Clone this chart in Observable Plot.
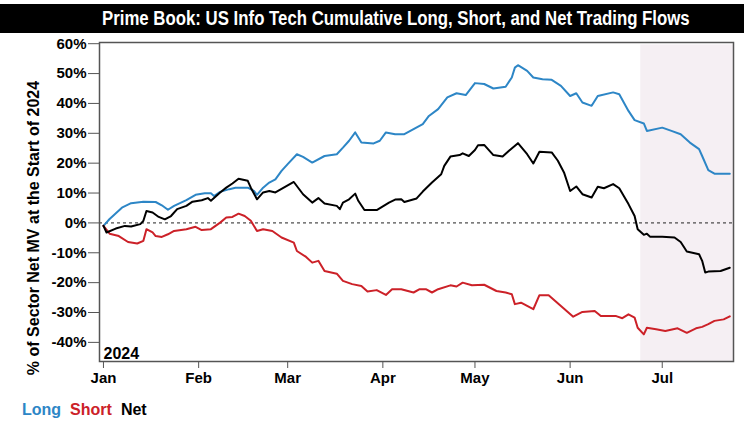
<!DOCTYPE html>
<html>
<head>
<meta charset="utf-8">
<script src="https://cdn.jsdelivr.net/npm/d3@7"></script>
<script src="https://cdn.jsdelivr.net/npm/@observablehq/plot@0.6"></script>
<style>
  html, body { margin: 0; padding: 0; background: #fff; }
  #wrap { width: 744px; height: 427px; position: relative; overflow: hidden; }
  #title { margin-top: 4px; height: 29px; line-height: 29px; background: #000; color: #fff;
           font-family: "Liberation Sans", Arial, sans-serif; font-weight: bold;
           font-size: 20px; text-align: center; padding-left: 46px; box-sizing: border-box; white-space: nowrap; }
  #title span { display: inline-block; transform: scaleX(0.84); transform-origin: center; }
  #chart svg text { font-weight: bold; }
  #legend { position: absolute; left: 22px; top: 401px; font-family: "Liberation Sans", Arial, sans-serif;
            font-weight: bold; font-size: 16px; }
  #legend span { margin-right: 9px; }
</style>
</head>
<body>
<div id="wrap">
  <div id="title"><span>Prime Book: US Info Tech Cumulative Long, Short, and Net Trading Flows</span></div>
  <div id="chart"></div>
  <div id="legend"><span style="color:#2d86c6">Long</span><span style="color:#cc2128">Short</span><span style="color:#000">Net</span></div>
</div>
<script>
// ---- Data ----
const longDates = ["2024-01-01","2024-01-03","2024-01-07","2024-01-10","2024-01-14","2024-01-18","2024-01-20","2024-01-22","2024-01-24","2024-01-28","2024-01-31","2024-02-03","2024-02-05","2024-02-06","2024-02-08","2024-02-11","2024-02-13","2024-02-17","2024-02-19","2024-02-20","2024-02-22","2024-02-24","2024-02-26","2024-02-28","2024-03-01","2024-03-04","2024-03-06","2024-03-09","2024-03-13","2024-03-17","2024-03-19","2024-03-21","2024-03-23","2024-03-25","2024-03-29","2024-03-31","2024-04-02","2024-04-05","2024-04-08","2024-04-11","2024-04-14","2024-04-16","2024-04-19","2024-04-22","2024-04-25","2024-04-28","2024-05-01","2024-05-04","2024-05-07","2024-05-11","2024-05-13","2024-05-14","2024-05-15","2024-05-18","2024-05-20","2024-05-23","2024-05-26","2024-05-29","2024-06-01","2024-06-03","2024-06-05","2024-06-08","2024-06-10","2024-06-15","2024-06-17","2024-06-20","2024-06-22","2024-06-25","2024-06-26","2024-07-01","2024-07-04","2024-07-07","2024-07-10","2024-07-13","2024-07-14","2024-07-16","2024-07-18","2024-07-23"];
const longValues = [-1.0,1.3,5.1,6.6,7.1,7.0,5.9,4.4,5.7,7.6,9.4,9.9,9.9,9.0,10.4,11.3,11.8,11.8,10.7,9.4,11.8,13.5,14.6,17.4,19.7,23.0,22.1,20.2,22.4,23.0,25.2,27.5,30.3,26.9,26.6,27.5,30.3,29.7,29.7,31.4,33.1,35.8,38.1,42.0,43.4,42.8,46.8,46.5,45.0,45.6,48.7,52.0,52.8,50.9,48.7,48.1,47.9,45.9,42.5,43.4,40.3,39.2,42.5,43.7,43.1,37.5,34.4,33.3,30.8,31.9,30.8,29.7,26.9,24.7,22.4,17.7,16.5,16.5];

const shortDates = ["2024-01-01","2024-01-03","2024-01-06","2024-01-09","2024-01-12","2024-01-14","2024-01-15","2024-01-17","2024-01-18","2024-01-20","2024-01-22","2024-01-24","2024-01-28","2024-01-31","2024-02-02","2024-02-05","2024-02-08","2024-02-10","2024-02-12","2024-02-14","2024-02-16","2024-02-18","2024-02-20","2024-02-22","2024-02-25","2024-02-28","2024-03-03","2024-03-04","2024-03-07","2024-03-09","2024-03-11","2024-03-13","2024-03-17","2024-03-19","2024-03-22","2024-03-25","2024-03-27","2024-03-30","2024-04-02","2024-04-04","2024-04-07","2024-04-11","2024-04-13","2024-04-15","2024-04-17","2024-04-19","2024-04-23","2024-04-25","2024-04-27","2024-04-30","2024-05-04","2024-05-08","2024-05-11","2024-05-13","2024-05-14","2024-05-16","2024-05-20","2024-05-22","2024-05-25","2024-05-29","2024-06-02","2024-06-05","2024-06-09","2024-06-11","2024-06-16","2024-06-18","2024-06-20","2024-06-22","2024-06-23","2024-06-25","2024-06-26","2024-06-29","2024-07-02","2024-07-06","2024-07-09","2024-07-12","2024-07-14","2024-07-16","2024-07-18","2024-07-21","2024-07-23"];
const shortValues = [-1.0,-3.6,-4.4,-6.4,-6.9,-6.0,-2.1,-3.2,-4.4,-4.7,-3.8,-2.7,-2.1,-1.3,-2.4,-2.1,0.1,1.8,2.0,3.1,2.3,0.7,-2.7,-2.1,-2.7,-4.9,-6.6,-9.4,-11.4,-13.3,-12.7,-16.1,-17.0,-19.4,-20.5,-21.1,-23.0,-22.5,-24.1,-22.2,-22.2,-23.3,-22.2,-22.2,-23.3,-22.2,-20.9,-21.3,-20.0,-20.9,-20.7,-22.8,-23.3,-23.9,-27.2,-26.7,-28.9,-24.2,-24.2,-27.8,-31.4,-29.8,-29.5,-31.2,-31.2,-31.9,-30.6,-31.7,-35.1,-37.3,-35.1,-35.6,-36.2,-35.3,-36.8,-35.3,-34.8,-33.9,-32.8,-32.3,-31.3];

const netDates = ["2024-01-01","2024-01-02","2024-01-05","2024-01-08","2024-01-10","2024-01-13","2024-01-14","2024-01-15","2024-01-17","2024-01-19","2024-01-21","2024-01-23","2024-01-25","2024-01-28","2024-01-30","2024-02-02","2024-02-04","2024-02-05","2024-02-08","2024-02-10","2024-02-12","2024-02-14","2024-02-17","2024-02-18","2024-02-20","2024-02-22","2024-02-24","2024-02-26","2024-03-03","2024-03-06","2024-03-09","2024-03-11","2024-03-13","2024-03-17","2024-03-18","2024-03-19","2024-03-21","2024-03-23","2024-03-24","2024-03-26","2024-03-30","2024-04-03","2024-04-05","2024-04-07","2024-04-08","2024-04-12","2024-04-14","2024-04-17","2024-04-20","2024-04-21","2024-04-23","2024-04-26","2024-04-27","2024-04-29","2024-05-01","2024-05-02","2024-05-04","2024-05-07","2024-05-10","2024-05-12","2024-05-15","2024-05-18","2024-05-20","2024-05-22","2024-05-26","2024-05-28","2024-05-30","2024-06-01","2024-06-03","2024-06-05","2024-06-08","2024-06-10","2024-06-12","2024-06-15","2024-06-17","2024-06-20","2024-06-22","2024-06-23","2024-06-25","2024-06-26","2024-06-27","2024-07-01","2024-07-05","2024-07-07","2024-07-09","2024-07-13","2024-07-14","2024-07-15","2024-07-16","2024-07-20","2024-07-23"];
const netValues = [-1.0,-3.2,-1.9,-1.0,-1.2,-0.4,0.7,4.0,3.5,2.0,1.2,2.3,4.6,5.7,7.1,7.6,8.3,7.4,10.2,11.8,13.2,14.8,14.1,11.8,7.9,10.2,10.7,10.2,13.7,9.6,6.8,8.3,6.5,5.7,4.6,6.8,7.9,9.8,7.4,4.3,4.3,6.8,7.8,7.9,7.0,8.2,10.5,13.5,16.3,19.1,22.2,22.7,23.3,22.4,24.4,26.0,26.1,22.7,22.2,24.1,26.7,23.0,19.9,23.8,23.6,20.8,16.9,10.7,12.2,9.6,8.5,12.1,11.6,13.0,11.6,6.3,2.3,-2.1,-4.0,-3.6,-4.6,-4.6,-4.9,-6.4,-9.6,-10.5,-12.7,-16.6,-16.3,-16.1,-15.0];

const seriesNames = ["Long", "Short", "Net"];
const seriesColors = ["#2d86c6", "#cc2128", "#000000"];
const yTicks = [-40, -30, -20, -10, 0, 10, 20, 30, 40, 50, 60];
const monthTicks = ["2024-01-01","2024-02-01","2024-03-01","2024-04-01","2024-05-01","2024-06-01","2024-07-01"];
const monthLabels = ["Jan","Feb","Mar","Apr","May","Jun","Jul"];
const shadeStart = "2024-06-24";
const yearLabel = "2024";
const yLabel = "% of Sector Net MV at the Start of 2024";

// ---- Build ----
const parse = s => new Date(s + "T00:00:00Z");
const build = (name, dates, values) => dates.map((d, i) => ({series: name, date: parse(d), value: values[i]}));
const data = [
  ...build("Long", longDates, longValues),
  ...build("Short", shortDates, shortValues),
  ...build("Net", netDates, netValues)
];
const xDomain = [new Date(Date.UTC(2023, 11, 30, 17)), new Date(Date.UTC(2024, 6, 24, 5))];
const yDomain = [-46.4, 60.4];
const font = '"Liberation Sans", Arial, sans-serif';

const chart = Plot.plot({
  width: 744,
  height: 360,
  marginLeft: 99,
  marginRight: 11,
  marginTop: 9,
  marginBottom: 32,
  style: {fontFamily: font, fontSize: "15px", background: "transparent", overflow: "visible"},
  x: {type: "utc", domain: xDomain},
  y: {domain: yDomain},
  color: {domain: seriesNames, range: seriesColors},
  marks: [
    Plot.rect([{x1: parse(shadeStart), x2: xDomain[1]}], {x1: "x1", x2: "x2", y1: yDomain[0], y2: 59.6, fill: "#f5eff3"}),
    Plot.ruleY([0], {stroke: "#222", strokeWidth: 1, strokeDasharray: "3,3"}),
    Plot.line(data, {x: "date", y: "value", z: "series", stroke: "series", strokeWidth: 2, curve: "linear"}),
    Plot.frame({stroke: "#555", strokeWidth: 1.5}),
    Plot.axisY({ticks: yTicks, tickFormat: d => d + "%", tickSize: 11, tickPadding: 2, label: null, stroke: "#555", fontSize: 15}),
    Plot.axisX({ticks: monthTicks.map(parse), tickFormat: (d, i) => monthLabels[i], tickSize: 7, tickPadding: 4, label: null, stroke: "#555", fontSize: 15}),
    Plot.text([yearLabel], {frameAnchor: "bottom-left", text: d => d, dx: 4, dy: -3, textAnchor: "start", lineAnchor: "bottom", fontSize: 16, fontWeight: "bold", fill: "#000"}),
    Plot.text([yLabel], {frameAnchor: "left", text: d => d, rotate: -90, dx: -66, dy: 26, textAnchor: "middle", fontSize: 16, fontWeight: "bold", fill: "#000"})
  ]
});
document.getElementById("chart").appendChild(chart);
</script>
</body>
</html>
